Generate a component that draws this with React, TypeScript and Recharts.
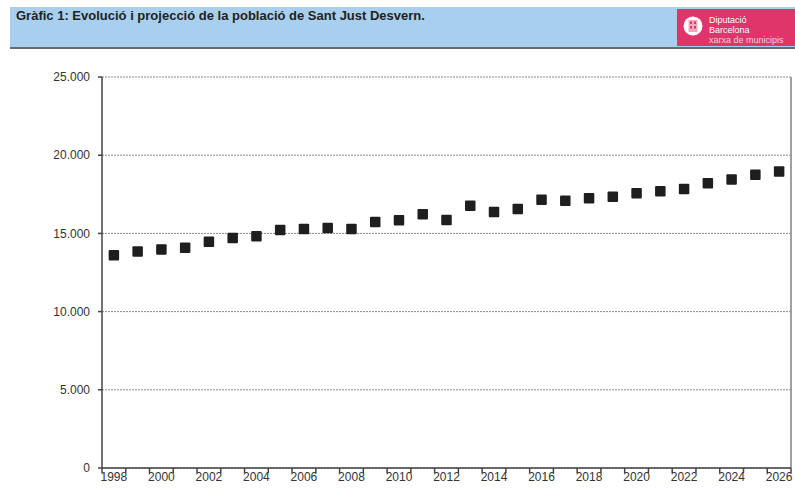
import React from "react";
import { ScatterChart, Scatter, XAxis, YAxis, CartesianGrid, ReferenceLine } from "recharts";

const title = "Gràfic 1: Evolució i projecció de la població de Sant Just Desvern.";

const years = [
  1998, 1999, 2000, 2001, 2002, 2003, 2004, 2005, 2006, 2007, 2008, 2009, 2010, 2011, 2012,
  2013, 2014, 2015, 2016, 2017, 2018, 2019, 2020, 2021, 2022, 2023, 2024, 2025, 2026,
];

const population = [
  13600, 13840, 13970, 14090, 14460, 14710, 14820, 15220, 15280, 15350, 15280, 15730, 15840, 16220, 15860,
  16770, 16370, 16560, 17150, 17090, 17240, 17350, 17560, 17690, 17840, 18200, 18450, 18750, 18960,
];

const yTicks = [0, 5000, 10000, 15000, 20000, 25000];

const data = years.map((year, i) => ({ year, pop: population[i] }));
// tick marks sit between the categories, labels on every other year
const boundaries = [...years.map((y) => y - 0.5), years[years.length - 1] + 0.5];
const labelYears = years.filter((y) => y % 2 === 0);
const domain: [number, number] = [boundaries[0], boundaries[boundaries.length - 1]];

const fmt = (v: number) => String(v).replace(/\B(?=(\d{3})+(?!\d))/g, ".");

const font = "'Liberation Sans', Arial, sans-serif";

function Square(props: any) {
  const s = 10.5;
  return <rect x={props.cx - s / 2} y={props.cy - s / 2} width={s} height={s} rx={1} fill="#1e1e1e" />;
}

function Logo() {
  return (
    <svg width={118} height={37} style={{ position: "absolute", left: 677, top: 9 }}>
      <rect width={118} height={37} fill="#e0356b" />
      <circle cx={16} cy={17} r={9.5} fill="#fff" />
      <rect x={11.5} y={11} width={9} height={12} fill="#f2a9c0" />
      <rect x={13} y={12.5} width={2} height={2.5} fill="#e0356b" />
      <rect x={17} y={12.5} width={2} height={2.5} fill="#e0356b" />
      <rect x={13} y={17} width={2} height={2.5} fill="#e0356b" />
      <rect x={17} y={17} width={2} height={2.5} fill="#e0356b" />
      <g fontFamily={font} fontSize={9} fill="#fff">
        <text x={32} y={14}>Diputació</text>
        <text x={32} y={24}>Barcelona</text>
        <text x={32} y={34} fill="#f8d0dd">xarxa de municipis</text>
      </g>
    </svg>
  );
}

export default function App() {
  return (
    <div style={{ position: "absolute", left: 0, top: 0, width: 795, height: 490, background: "#fff", fontFamily: font }}>
      <div
        style={{
          position: "absolute",
          left: 10,
          top: 7,
          width: 785,
          height: 40,
          background: "#a9cfee",
          borderBottom: "2px solid #6a6a6a",
        }}
      />
      <div style={{ position: "absolute", left: 16, top: 8, fontSize: 13, fontWeight: "bold", color: "#222" }}>{title}</div>
      <Logo />
      <div style={{ position: "absolute", left: 0, top: 0 }}>
        <ScatterChart width={795} height={490} margin={{ top: 77, right: 4, bottom: 0, left: 42 }}>
          <CartesianGrid vertical={false} stroke="#8a8a8a" strokeDasharray="2 1" />
          <XAxis
            xAxisId={0}
            type="number"
            dataKey="year"
            domain={domain}
            ticks={boundaries}
            interval={0}
            height={3}
            tickSize={5}
            tick={() => <g />}
            stroke="#444"
            strokeWidth={1.5}
            allowDataOverflow
          />
          <XAxis
            xAxisId="labels"
            type="number"
            dataKey="year"
            domain={domain}
            ticks={labelYears}
            interval={0}
            height={19}
            tickSize={0}
            tickMargin={1}
            tickLine={false}
            axisLine={false}
            tick={{ fill: "#333", fontSize: 12 }}
            allowDataOverflow
          />
          <YAxis
            type="number"
            dataKey="pop"
            domain={[0, 25000]}
            ticks={yTicks}
            interval={0}
            width={60}
            tickSize={4}
            tickMargin={8}
            tickFormatter={fmt}
            tick={{ fill: "#333", fontSize: 12 }}
            stroke="#444"
            strokeWidth={1.5}
          />
          <ReferenceLine x={domain[1]} stroke="#a0a0a0" strokeWidth={2} />
          <Scatter data={data} shape={Square} isAnimationActive={false} />
          {/* invisible series so the label axis gets data */}
          <Scatter data={data} xAxisId="labels" shape={() => <g />} legendType="none" isAnimationActive={false} />
        </ScatterChart>
      </div>
    </div>
  );
}
